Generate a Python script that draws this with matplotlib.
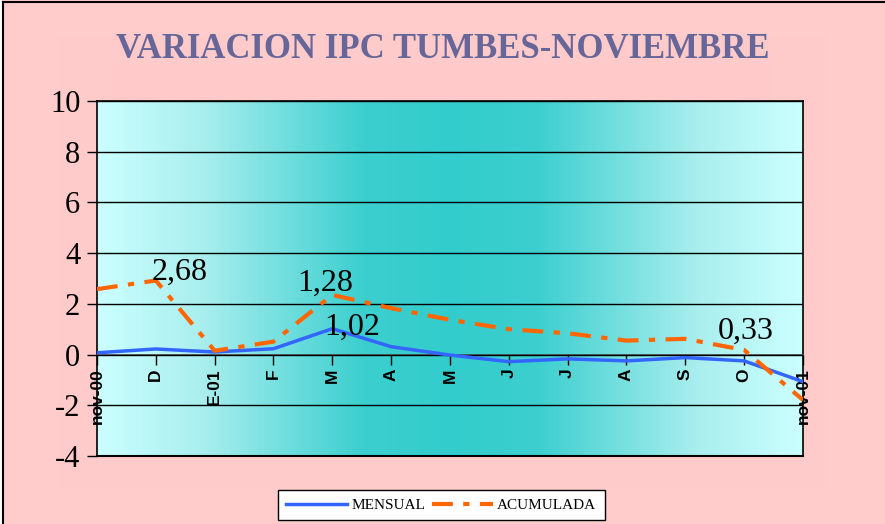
import numpy as np
import matplotlib
matplotlib.use("Agg")
import matplotlib.pyplot as plt
from matplotlib.colors import LinearSegmentedColormap
from matplotlib.lines import Line2D

# ---- data ----
categories = ["nov-00", "D", "E-01", "F", "M", "A", "M", "J", "J", "A", "S", "O", "nov-01"]
mensual = [0.07, 0.22, 0.10, 0.23, 1.02, 0.31, -0.02, -0.28, -0.17, -0.25, -0.12, -0.25, -1.07]
acumulada = [2.58, 2.92, 0.15, 0.51, 2.35, 1.83, 1.37, 1.00, 0.84, 0.55, 0.62, 0.18, -1.79]
# data labels: (series, index, text)
label_points = [("acumulada", 1, "2,68"), ("acumulada", 4, "1,28"),
                ("mensual", 4, "1,02"), ("acumulada", 11, "0,33")]
label_offsets = {"2,68": (24, 8), "1,28": (-7, 12), "1,02": (20, 1), "0,33": (2, 19)}
yticks = [-4, -2, 0, 2, 4, 6, 8, 10]
title = "VARIACION IPC TUMBES-NOVIEMBRE"

fig = plt.figure(figsize=(8.85, 5.24), dpi=100)
fig.patch.set_facecolor("#FFC8C8")

# subtle background gradient of chart area
bg = fig.add_axes([0, 0, 1, 1], zorder=-10)
bg.axis("off")
xx = np.linspace(-1, 1, 200)
yy = np.linspace(-1, 1, 120)
X, Y = np.meshgrid(xx, yy)
Z = np.maximum(np.abs(X), np.abs(Y))
bg_cmap = LinearSegmentedColormap.from_list("bgc", ["#FFB9B9", "#FFC8C8", "#FFCCCC"])
bg.imshow(Z, cmap=bg_cmap, extent=[0, 1, 0, 1], aspect="auto", vmin=0, vmax=1)
bg.set_xlim(0, 1); bg.set_ylim(0, 1)
# white strip + black border on left and top (cropped chart frame)
fig.add_artist(Line2D([0, 0], [0, 1], transform=fig.transFigure, color="white", lw=3))
fig.add_artist(Line2D([0.0035, 0.0035], [0, 0.997], transform=fig.transFigure, color="black", lw=1.5))
fig.add_artist(Line2D([0.0035, 1], [0.997, 0.997], transform=fig.transFigure, color="black", lw=1.5))

ax = fig.add_axes([0.1096, 0.1298, 0.7977, 0.6775])
x = np.arange(len(categories))
xmin, xmax = x[0], x[-1]
ax.set_xlim(xmin, xmax)
ax.set_ylim(yticks[0], yticks[-1])

# plot area horizontal gradient
grad = np.abs(np.linspace(-1, 1, 400))[None, :]
cmap = LinearSegmentedColormap.from_list("pa", [(0, "#33CCCC"), (0.25, "#3DCFCF"), (0.7, "#A9EEEE"), (1, "#CCFFFF")])
ax.imshow(grad, cmap=cmap, extent=[xmin, xmax, yticks[0], yticks[-1]], aspect="auto", zorder=0,
          vmin=0, vmax=1)

ax.set_yticks(yticks)
ax.yaxis.grid(True, color="black", lw=1.0, zorder=1)
ax.set_axisbelow(False)
for s in ["left", "right", "top"]:
    ax.spines[s].set_color("black")
    ax.spines[s].set_linewidth(1.2)
ax.spines["bottom"].set_position(("data", 0))
ax.spines["bottom"].set_color("#555555")
ax.spines["bottom"].set_linewidth(1.2)
ax.axhline(yticks[0], color="black", lw=1.5, zorder=3, clip_on=False)

ax.set_yticklabels([str(v) for v in yticks], fontfamily="Liberation Serif", fontsize=22)
ax.tick_params(axis="y", direction="out", length=7, width=1, pad=5)
ax.set_xticks(x)
ax.set_xticklabels(categories, rotation=90, fontfamily="Liberation Sans", fontweight="bold",
                   fontsize=12.5, va="top", ha="center")
ax.tick_params(axis="x", direction="out", length=7, width=1, pad=3, colors="black")

l1, = ax.plot(x, mensual, color="#3366FF", lw=2.5, zorder=5, label="MENSUAL")
l2, = ax.plot(x, acumulada, color="#FF6600", lw=3, zorder=5, label="ACUMULADA",
              dashes=(5, 2.5, 1.5, 2.5))

series = {"mensual": mensual, "acumulada": acumulada}
for sname, idx, txt in label_points:
    ax.annotate(txt, xy=(x[idx], series[sname][idx]), xytext=label_offsets[txt],
                textcoords="offset pixels", ha="center", va="center",
                fontfamily="Liberation Serif", fontsize=23, color="black", zorder=6)

fig.text(0.5, 0.905, title, ha="center", va="center", fontfamily="Liberation Serif",
         fontweight="bold", fontsize=25, color="#666699")

leg = fig.legend(handles=[l1, l2], loc="center", bbox_to_anchor=(0.4985, 0.036), ncol=2,
                 frameon=True, fancybox=False, edgecolor="black", facecolor="white",
                 prop={"family": "Liberation Serif", "size": 11}, handlelength=4.0,
                 handletextpad=0.3, columnspacing=0.4, borderpad=0.55, borderaxespad=0)
leg.get_frame().set_linewidth(1.0)
leg.get_frame().set_alpha(1)

fig.savefig("out.png", dpi=100, facecolor=fig.get_facecolor())
